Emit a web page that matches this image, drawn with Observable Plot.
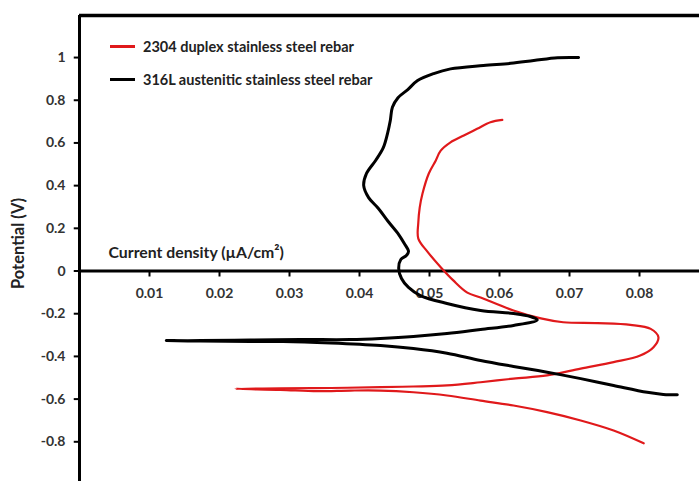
<!DOCTYPE html>
<html>
<head>
<meta charset="utf-8">
<script src="https://cdn.jsdelivr.net/npm/d3@7"></script>
<script src="https://cdn.jsdelivr.net/npm/@observablehq/plot@0.6"></script>
<style>
  html, body { margin: 0; padding: 0; background: #fff; }
  #wrap { position: relative; width: 699px; height: 481px; overflow: hidden; font-family: Lato, "DejaVu Sans", sans-serif; }
  .leg { position: absolute; left: 110px; display: flex; align-items: center; font-weight: 700; font-size: 14.5px; color: #222; white-space: nowrap; }
  .leg .sw { display: inline-block; width: 25px; margin-right: 8px; }
</style>
</head>
<body>
<div id="wrap"></div>
<script>
// ---- Data ----
const seriesNames = ["2304 duplex stainless steel rebar", "316L austenitic stainless steel rebar"];
const seriesColors = ["#e0191b", "#000000"];

// 316L austenitic stainless steel rebar: current density (µA/cm²), potential (V)
const steel316X = [0.0713,0.0683,0.0649,0.0616,0.0577,0.0530,0.0506,0.0483,0.0469,0.0455,0.0447,0.0444,0.0440,0.0434,0.0423,0.0410,0.0406,0.0413,0.0427,0.0441,0.0456,0.0464,0.0470,0.0467,0.0459,0.0456,0.0460,0.0470,0.0487,0.0525,0.0573,0.0620,0.0644,0.0654,0.0620,0.0573,0.0525,0.0477,0.0430,0.0387,0.0316,0.0244,0.0173,0.0124,0.0173,0.0244,0.0291,0.0359,0.0430,0.0477,0.0525,0.0573,0.0620,0.0668,0.0716,0.0763,0.0811,0.0834,0.0854];
const steel316Y = [1.000,0.999,0.986,0.973,0.963,0.947,0.925,0.892,0.850,0.812,0.767,0.705,0.644,0.578,0.518,0.457,0.400,0.344,0.293,0.232,0.171,0.129,0.091,0.073,0.054,0.012,-0.035,-0.077,-0.115,-0.152,-0.185,-0.199,-0.213,-0.229,-0.255,-0.274,-0.293,-0.307,-0.316,-0.321,-0.321,-0.323,-0.326,-0.326,-0.328,-0.330,-0.330,-0.337,-0.349,-0.363,-0.385,-0.419,-0.447,-0.474,-0.504,-0.536,-0.568,-0.578,-0.580];

// 2304 duplex stainless steel rebar
const duplexX = [0.0604,0.0587,0.0568,0.0549,0.0530,0.0516,0.0509,0.0499,0.0490,0.0486,0.0484,0.0484,0.0497,0.0516,0.0534,0.0554,0.0573,0.0620,0.0659,0.0691,0.0740,0.0787,0.0816,0.0827,0.0820,0.0801,0.0763,0.0716,0.0668,0.0620,0.0573,0.0525,0.0477,0.0430,0.0359,0.0287,0.0223,0.0287,0.0340,0.0387,0.0430,0.0477,0.0525,0.0573,0.0620,0.0668,0.0716,0.0763,0.0806];
const duplexY = [0.708,0.697,0.666,0.635,0.603,0.564,0.518,0.457,0.363,0.297,0.227,0.152,0.091,0.018,-0.044,-0.101,-0.124,-0.185,-0.222,-0.240,-0.244,-0.252,-0.271,-0.310,-0.357,-0.396,-0.427,-0.457,-0.489,-0.504,-0.521,-0.536,-0.541,-0.544,-0.548,-0.550,-0.552,-0.557,-0.563,-0.560,-0.560,-0.568,-0.583,-0.607,-0.630,-0.661,-0.700,-0.747,-0.807];

const xTicks = [0.01,0.02,0.03,0.04,0.05,0.06,0.07,0.08];
const xTickLabels = ["0.01","0.02","0.03","0.04","0.05","0.06","0.07","0.08"];
const yTicks = [1,0.8,0.6,0.4,0.2,0,-0.2,-0.4,-0.6,-0.8];
const yTickLabels = ["1","0.8","0.6","0.4","0.2","0","-0.2","-0.4","-0.6","-0.8"];
const xTitle = "Current density (µA/cm²)";
const yTitle = "Potential (V)";

const xDomain = [0, 0.08857];
const yDomain = [-0.986, 1.197];

// ---- Build ----
const pts316 = steel316X.map((x, i) => ({x, y: steel316Y[i]}));
const ptsDup = duplexX.map((x, i) => ({x, y: duplexY[i]}));
const xTickData = xTicks.map((v, i) => ({v, label: xTickLabels[i]}));
const yTickData = yTicks.map((v, i) => ({v, label: yTickLabels[i]}));

const chart = Plot.plot({
  width: 699,
  height: 481,
  marginLeft: 79,
  marginRight: 0,
  marginTop: 15,
  marginBottom: 0,
  x: {domain: xDomain, axis: null},
  y: {domain: yDomain, axis: null},
  style: {fontFamily: "Lato, 'DejaVu Sans', sans-serif", background: "#fff", overflow: "visible"},
  marks: [
    // frame top, left axis, x axis at zero
    Plot.ruleY([yDomain[1]], {stroke: "#000", strokeWidth: 3.5}),
    Plot.ruleX([0], {stroke: "#000", strokeWidth: 3}),
    Plot.ruleY([0], {stroke: "#000", strokeWidth: 3}),
    // tick marks
    Plot.ruleX(xTickData, {x: "v", y1: 0, y2: -0.028, stroke: "#000", strokeWidth: 2}),
    Plot.ruleY(yTickData, {y: "v", x1: 0, x2: -0.00075, stroke: "#000", strokeWidth: 2}),
    // tick labels
    Plot.text(xTickData, {x: "v", y: () => 0, text: "label", dy: 22.5, textAnchor: "middle", fontSize: 14, fontWeight: 700, fill: "#333"}),
    Plot.text(yTickData, {x: () => 0, y: "v", text: "label", dx: -14, textAnchor: "end", fontSize: 14, fontWeight: 700, fill: "#333"}),
    // titles
    Plot.text([xTitle], {x: () => 0, y: () => 0, text: d => d, dx: 29, dy: -18, textAnchor: "start", fontSize: 15.8, fontWeight: 700, fill: "#222"}),
    Plot.text([yTitle], {frameAnchor: "left", text: d => d, dx: -60.5, dy: -5, rotate: -90, textAnchor: "middle", fontSize: 16.5, fontWeight: 700, fill: "#222"}),
    // curves
    Plot.line(ptsDup, {x: "x", y: "y", stroke: seriesColors[0], strokeWidth: 2.2, strokeLinejoin: "round", strokeLinecap: "round", curve: "catmull-rom"}),
    Plot.line(pts316, {x: "x", y: "y", stroke: seriesColors[1], strokeWidth: 3, strokeLinejoin: "round", strokeLinecap: "round", curve: "catmull-rom"})
  ]
});

const wrap = document.getElementById("wrap");
wrap.appendChild(chart);

// legend overlay
seriesNames.forEach((name, i) => {
  const item = document.createElement("div");
  item.className = "leg";
  item.style.top = (i === 0 ? 37 : 70) + "px";
  item.style.height = "19px";
  const sw = document.createElement("span");
  sw.className = "sw";
  sw.style.background = seriesColors[i];
  sw.style.height = (i === 0 ? 2.5 : 3.5) + "px";
  const tx = document.createElement("span");
  tx.textContent = name;
  item.appendChild(sw);
  item.appendChild(tx);
  wrap.appendChild(item);
});
</script>
</body>
</html>
